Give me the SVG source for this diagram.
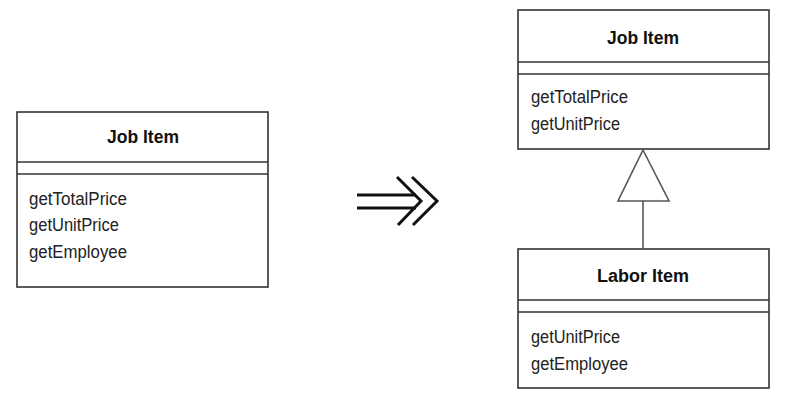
<svg xmlns="http://www.w3.org/2000/svg" width="789" height="406" viewBox="0 0 789 406">
<style>
.box{fill:#fff;stroke:#333;stroke-width:1.6}
.sep{stroke:#333;stroke-width:1.6}
.title{font-family:"Liberation Sans",Arial,sans-serif;font-size:17.5px;font-weight:bold;fill:#111;text-anchor:middle}
.op{font-family:"Liberation Sans",Arial,sans-serif;font-size:17.5px;fill:#222}
.conn{fill:none;stroke:#555;stroke-width:1.6}
.arr{fill:none;stroke:#111;stroke-width:3}
</style>
<rect width="789" height="406" fill="#fff"/>
<g id="job-item-left">
<rect class="box" x="17" y="112" width="251" height="175"/>
<line class="sep" x1="17" y1="162" x2="268" y2="162"/>
<line class="sep" x1="17" y1="174" x2="268" y2="174"/>
<text class="title" x="143" y="143" textLength="72" lengthAdjust="spacingAndGlyphs">Job Item</text>
<text class="op" x="29" y="205" textLength="98" lengthAdjust="spacingAndGlyphs">getTotalPrice</text>
<text class="op" x="29" y="231" textLength="90" lengthAdjust="spacingAndGlyphs">getUnitPrice</text>
<text class="op" x="29" y="258" textLength="98" lengthAdjust="spacingAndGlyphs">getEmployee</text>
</g>
<g id="transform-arrow">
<line class="arr" x1="357" y1="195" x2="416" y2="195"/>
<line class="arr" x1="357" y1="208" x2="416" y2="208"/>
<polyline class="arr" points="397,177 421,201 398,225"/>
<polyline class="arr" points="412,177 437,201 413,225"/>
</g>
<g id="job-item-right">
<rect class="box" x="518" y="10" width="251" height="139"/>
<line class="sep" x1="518" y1="62" x2="769" y2="62"/>
<line class="sep" x1="518" y1="74" x2="769" y2="74"/>
<text class="title" x="643" y="44" textLength="72" lengthAdjust="spacingAndGlyphs">Job Item</text>
<text class="op" x="531" y="103" textLength="97" lengthAdjust="spacingAndGlyphs">getTotalPrice</text>
<text class="op" x="531" y="130" textLength="89" lengthAdjust="spacingAndGlyphs">getUnitPrice</text>
</g>
<g id="labor-item">
<rect class="box" x="518" y="249" width="251" height="139"/>
<line class="sep" x1="518" y1="300" x2="769" y2="300"/>
<line class="sep" x1="518" y1="312" x2="769" y2="312"/>
<text class="title" x="643" y="282" textLength="92" lengthAdjust="spacingAndGlyphs">Labor Item</text>
<text class="op" x="531" y="343" textLength="89" lengthAdjust="spacingAndGlyphs">getUnitPrice</text>
<text class="op" x="531" y="370" textLength="97" lengthAdjust="spacingAndGlyphs">getEmployee</text>
</g>
<g id="connectors">
<line class="conn" x1="643" y1="201" x2="643" y2="249"/>
<polygon class="conn" points="643,150 669,201 618,201"/>
</g>
</svg>
